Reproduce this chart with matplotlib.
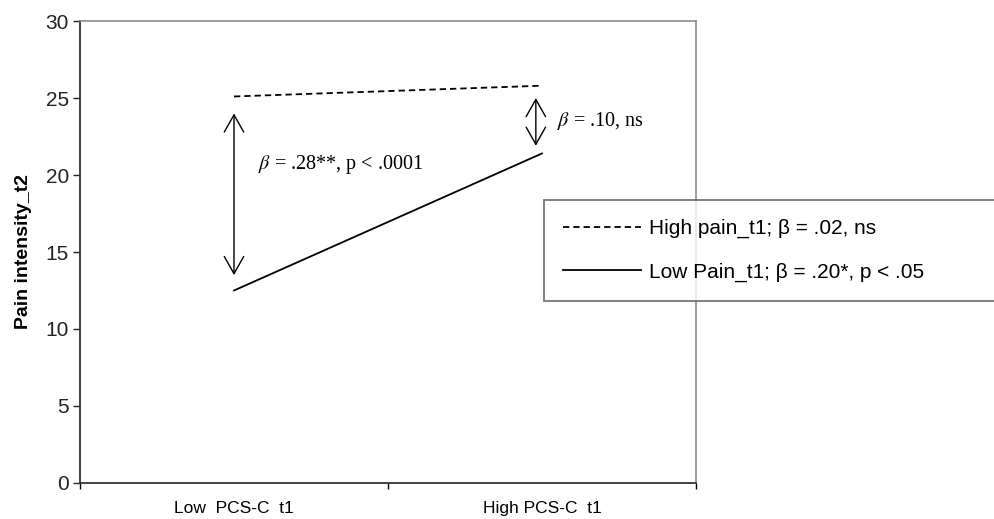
import numpy as np
import matplotlib
matplotlib.use("Agg")
import matplotlib.pyplot as plt

plt.rcParams['font.family'] = ['Liberation Sans', 'DejaVu Sans']
plt.rcParams['mathtext.fontset'] = 'stix'

DPIVAL = 100
ftsz = 15     # tick / legend fontsize
ftsz2 = 14.5  # annotation fontsize

# slope data: pain intensity at t2 for low / high PCS-C at t1
groups = ['Low  PCS-C  t1', 'High PCS-C  t1']
xpos = [0.5, 1.5]
high_pain = [25.1, 25.8]
low_pain = [12.5, 21.4]
series_labels = ['High pain_t1; \u03b2 = .02, ns',
                 'Low Pain_t1; \u03b2 = .20*, p < .05']

# simple-slope contrasts between the two lines
diff_x = [0.5, 1.48]
diff_top = [24.0, 25.0]
diff_bot = [13.5, 21.9]
diff_text = [r'$\beta$ = .28**, p < .0001', r'$\beta$ = .10, ns']
text_xy = [(0.578, 20.65), (1.549, 23.5)]

fig = plt.figure(figsize=(9.95, 5.19), dpi=DPIVAL)
ax = fig.add_axes([0.0804, 0.0694, 0.6191, 0.8901])

l1, = ax.plot(xpos, high_pain, color='black', lw=1.3, ls=(0, (3.5, 2.2)))
l2, = ax.plot(xpos, low_pain, color='black', lw=1.3)

for x, yt, yb in zip(diff_x, diff_top, diff_bot):
    ax.annotate('', xy=(x, yt), xytext=(x, yb),
                arrowprops=dict(arrowstyle='<->,head_length=0.62,head_width=0.35',
                                mutation_scale=20, lw=1.0, color='black',
                                shrinkA=0, shrinkB=0))

for (tx, ty), s in zip(text_xy, diff_text):
    ax.text(tx, ty, s, fontsize=ftsz2, family='Liberation Serif',
            ha='left', va='center')

ax.set_xlim(0, 2)
ax.set_ylim(0, 30)
ax.set_yticks(np.arange(0, 31, 5))
ax.tick_params(axis='y', direction='out', length=5, width=1, pad=3,
               labelsize=ftsz, colors='#222222')
ax.set_xticks([0, 1, 2])
ax.set_xticklabels([])
ax.tick_params(axis='x', which='major', direction='out', length=4, width=1)
ax.set_xticks(xpos, minor=True)
ax.set_xticklabels(groups, minor=True, fontsize=12.5)
ax.tick_params(axis='x', which='minor', length=0, pad=13)

for side in ['left', 'bottom']:
    ax.spines[side].set_color('#333333')
    ax.spines[side].set_linewidth(1.3)
for side in ['top', 'right']:
    ax.spines[side].set_color('#8c8c8c')
    ax.spines[side].set_linewidth(1.2)

ax.set_ylabel('Pain intensity_t2', fontsize=14, fontweight='bold')
ax.yaxis.set_label_coords(-0.078, 0.5)

leg = fig.legend([l1, l2], series_labels, loc='upper left',
                 bbox_to_anchor=(0.5467, 0.0, 0.48, 0.6146),
                 mode='expand', fontsize=ftsz, handlelength=3.75,
                 handletextpad=0.38, labelspacing=1.15, borderpad=0.92,
                 borderaxespad=0, fancybox=False, frameon=True)
leg.get_frame().set_edgecolor('#555555')
leg.get_frame().set_linewidth(1.3)

plt.savefig('out.png', dpi=DPIVAL)
